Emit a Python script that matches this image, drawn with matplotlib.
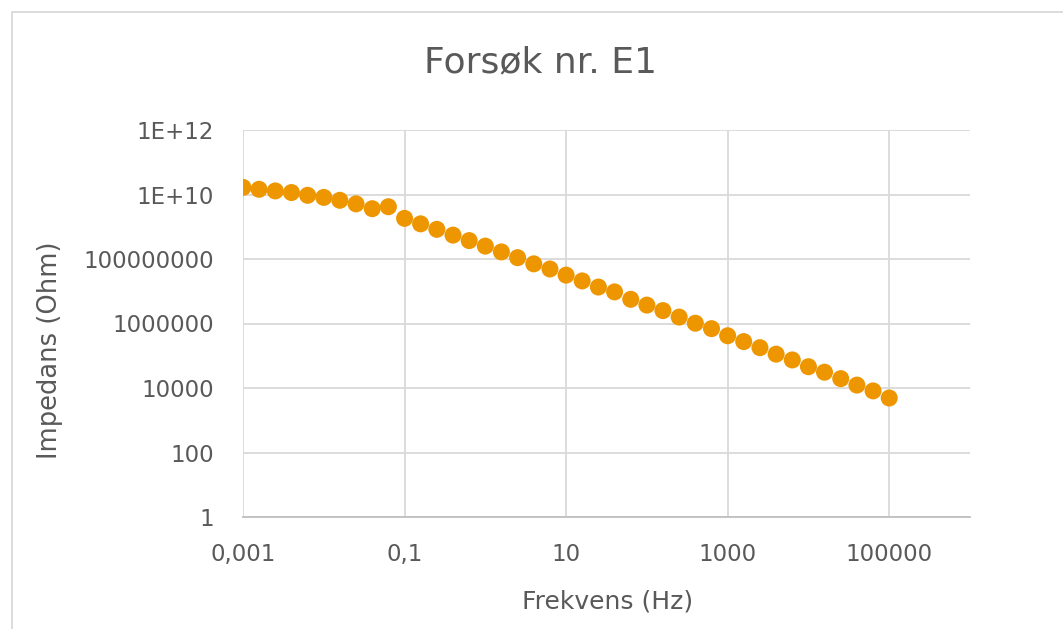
import numpy as np
import matplotlib.pyplot as plt
from matplotlib.patches import Rectangle
from matplotlib.ticker import FixedLocator, FixedFormatter, NullLocator

# frequency (Hz) and impedance (Ohm)
freq = [0.001, 0.00158, 0.00251, 0.00398, 0.00631,
        0.01, 0.0158, 0.0251, 0.0398, 0.0631,
        0.1, 0.158, 0.251, 0.398, 0.631,
        1.0, 1.58, 2.51, 3.98, 6.31,
        10.0, 15.8, 25.1, 39.8, 63.1,
        100.0, 158.0, 251.0, 398.0, 631.0,
        1000.0, 1580.0, 2510.0, 3980.0, 6310.0,
        10000.0, 15800.0, 25100.0, 39800.0, 63100.0,
        100000.0]
impedans = [1.66e10, 1.45e10, 1.29e10, 1.15e10, 9.44e9,
            8.13e9, 6.61e9, 5.13e9, 3.63e9, 4.17e9,
            1.82e9, 1.23e9, 8.32e8, 5.50e8, 3.72e8,
            2.51e8, 1.66e8, 1.10e8, 7.08e7, 4.90e7,
            3.16e7, 2.09e7, 1.35e7, 9.55e6, 5.62e6,
            3.72e6, 2.51e6, 1.58e6, 1.02e6, 6.92e5,
            4.17e5, 2.75e5, 1.78e5, 1.12e5, 7.41e4,
            4.57e4, 3.09e4, 1.95e4, 1.23e4, 8.13e3,
            4.90e3]

x_ticks = [1e-3, 1e-1, 1e1, 1e3, 1e5]
x_labels = ["0,001", "0,1", "10", "1000", "100000"]
y_ticks = [1, 1e2, 1e4, 1e6, 1e8, 1e10, 1e12]
y_labels = ["1", "100", "10000", "1000000", "100000000", "1E+10", "1E+12"]

txt = "#595959"
grid = "#d9d9d9"

fig = plt.figure(figsize=(10.63, 6.29), dpi=100)
W, H = 1063, 629
ax = fig.add_axes([243 / W, 1 - 517 / H, (970 - 243) / W, (517 - 130) / H])

# chart area border
fig.patches.append(Rectangle((12, -20), W + 20, H - 12 + 20, transform=None,
                             fill=False, edgecolor=grid, lw=1.3))

ax.scatter(freq, impedans, s=150, color="#ee9600", edgecolors="none", zorder=3)

ax.set_xscale("log")
ax.set_yscale("log")
ax.set_xlim(1e-3, 1e6)
ax.set_ylim(1, 1e12)

ax.xaxis.set_major_locator(FixedLocator(x_ticks))
ax.xaxis.set_major_formatter(FixedFormatter(x_labels))
ax.xaxis.set_minor_locator(NullLocator())
ax.yaxis.set_major_locator(FixedLocator(y_ticks))
ax.yaxis.set_major_formatter(FixedFormatter(y_labels))
ax.yaxis.set_minor_locator(NullLocator())

ax.grid(True, color=grid, lw=1.3)
ax.set_axisbelow(True)
for s in ["top", "right", "left"]:
    ax.spines[s].set_visible(False)
ax.spines["bottom"].set_color("#bfbfbf")
ax.spines["bottom"].set_linewidth(1.3)
ax.tick_params(length=0, labelsize=16.5, labelcolor=txt)
ax.tick_params(axis="x", pad=19)
ax.tick_params(axis="y", pad=21)

fig.text(608 / W, 1 - 601 / H, "Frekvens (Hz)", fontsize=18, color=txt,
         ha="center", va="center")
fig.text(50 / W, 1 - 350 / H, "Impedans (Ohm)", fontsize=18.5, color=txt,
         ha="center", va="center", rotation=90)
fig.text(540 / W, 1 - 62 / H, "Forsøk nr. E1", fontsize=26, color=txt,
         ha="center", va="center")

fig.savefig("out.png", dpi=100)
